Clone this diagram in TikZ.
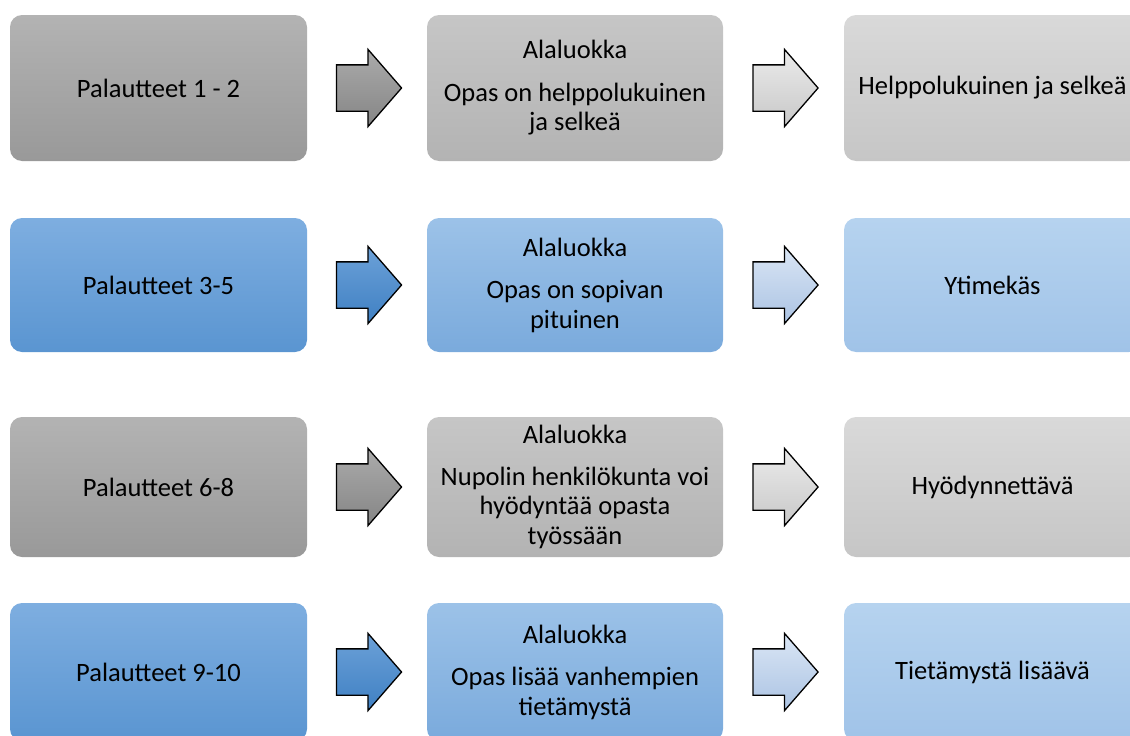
\documentclass[tikz,border=0pt]{standalone}
\usepackage{fontspec}
\setmainfont{Carlito}
\usetikzlibrary{calc,shapes.arrows}
\definecolor{gAt}{HTML}{B3B3B3}\definecolor{gAb}{HTML}{999999}
\definecolor{gBt}{HTML}{C6C6C6}\definecolor{gBb}{HTML}{B3B3B3}
\definecolor{gCt}{HTML}{D9D9D9}\definecolor{gCb}{HTML}{C6C6C6}
\definecolor{bAt}{HTML}{7EAEE0}\definecolor{bAb}{HTML}{5A95D1}
\definecolor{bBt}{HTML}{9CC2E8}\definecolor{bBb}{HTML}{7AAADC}
\definecolor{bCt}{HTML}{B6D3EF}\definecolor{bCb}{HTML}{A0C3E8}
\definecolor{agAt}{HTML}{ABABAB}\definecolor{agAb}{HTML}{858585}
\definecolor{agBt}{HTML}{EBEBEB}\definecolor{agBb}{HTML}{C8C8C8}
\definecolor{abAt}{HTML}{6CA1D8}\definecolor{abAb}{HTML}{3F80C3}
\definecolor{abBt}{HTML}{DAE6F5}\definecolor{abBb}{HTML}{ABC3E3}
\begin{document}
\begin{tikzpicture}[x=1pt,y=-1pt,
  box/.style={rounded corners=12pt, inner sep=0pt, align=center,
    font=\fontsize{26.5}{29.5}\selectfont, minimum width=297pt},
  grayA/.style={top color=gAt, bottom color=gAb},
  grayB/.style={top color=gBt, bottom color=gBb},
  grayC/.style={top color=gCt, bottom color=gCb},
  blueA/.style={top color=bAt, bottom color=bAb},
  blueB/.style={top color=bBt, bottom color=bBb},
  blueC/.style={top color=bCt, bottom color=bCb},
  barrow/.style={single arrow, draw=black, line width=1.3pt, minimum height=65pt,
    inner xsep=0pt, inner ysep=22.5pt, single arrow head extend=15.5pt,
    single arrow tip angle=98, single arrow head indent=0pt, xshift=-8pt},
  garrowA/.style={barrow, top color=agAt, bottom color=agAb},
  garrowB/.style={barrow, top color=agBt, bottom color=agBb},
  barrowA/.style={barrow, top color=abAt, bottom color=abAb},
  barrowB/.style={barrow, top color=abBt, bottom color=abBb}]
\useasboundingbox (0,0) rectangle (1130,736);
% row 1
\node[box, grayA, minimum height=146pt] (a1) at (158.5,88) {Palautteet 1 - 2};
\node[box, grayB, minimum height=146pt, minimum width=296pt] (b1) at (575,88) {Alaluokka\\[13pt]Opas on helppolukuinen\\ja selkeä};
\node[box, grayC, minimum height=146pt] (c1) at (992.5,88) {Helppolukuinen ja selkeä};
% row 2
\node[box, blueA, minimum height=134pt] (a2) at (158.5,285) {Palautteet 3-5};
\node[box, blueB, minimum height=134pt, minimum width=296pt] (b2) at (575,285) {Alaluokka\\[13pt]Opas on sopivan\\pituinen};
\node[box, blueC, minimum height=134pt] (c2) at (992.5,285) {Ytimekäs};
% row 3
\node[box, grayA, minimum height=140pt] (a3) at (158.5,487) {Palautteet 6-8};
\node[box, grayB, minimum height=140pt, minimum width=296pt] (b3) at (575,487) {Alaluokka\\[12pt]Nupolin henkilökunta voi\\hyödyntää opasta\\työssään};
\node[box, grayC, minimum height=140pt] (c3) at (992.5,487) {Hyödynnettävä};
% row 4
\node[box, blueA, minimum height=138pt] (a4) at (158.5,672) {Palautteet 9-10};
\node[box, blueB, minimum height=138pt, minimum width=296pt] (b4) at (575,672) {Alaluokka\\[13pt]Opas lisää vanhempien\\tietämystä};
\node[box, blueC, minimum height=138pt] (c4) at (992.5,672) {Tietämystä lisäävä};
% arrows
\node[garrowA] (r1a) at ($(a1.east)!0.5!(b1.west)$) {};
\node[garrowB] (r1b) at ($(b1.east)!0.5!(c1.west)$) {};
\node[barrowA] (r2a) at ($(a2.east)!0.5!(b2.west)$) {};
\node[barrowB] (r2b) at ($(b2.east)!0.5!(c2.west)$) {};
\node[garrowA] (r3a) at ($(a3.east)!0.5!(b3.west)$) {};
\node[garrowB] (r3b) at ($(b3.east)!0.5!(c3.west)$) {};
\node[barrowA] (r4a) at ($(a4.east)!0.5!(b4.west)$) {};
\node[barrowB] (r4b) at ($(b4.east)!0.5!(c4.west)$) {};
\end{tikzpicture}
\end{document}
